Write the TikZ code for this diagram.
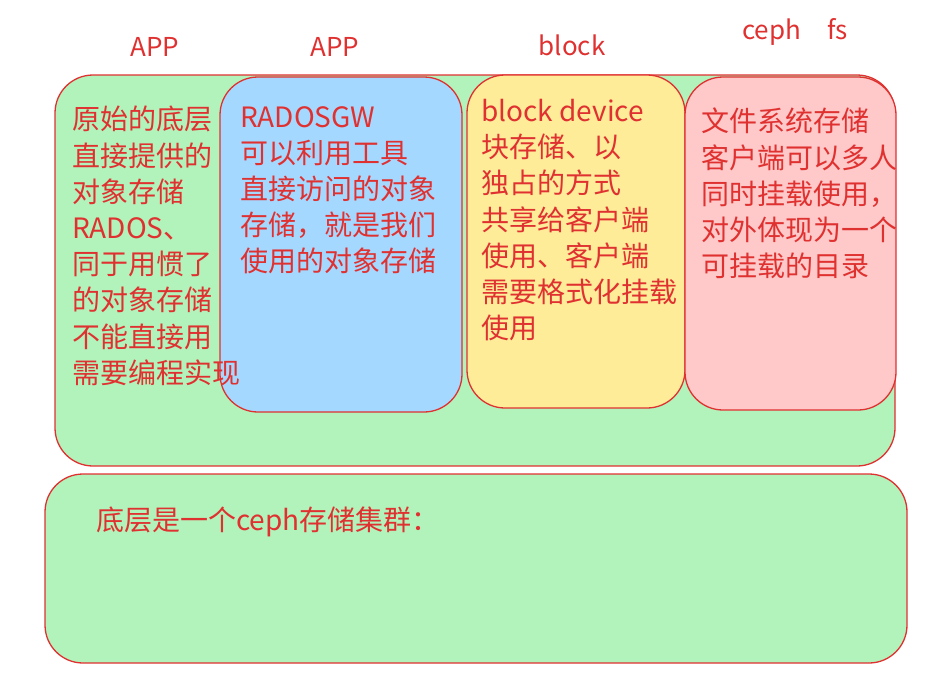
\documentclass[tikz,border=0pt]{standalone}
\usepackage{fontspec}
\setmainfont{Noto Sans CJK SC}
\usetikzlibrary{positioning}
\definecolor{ink}{HTML}{E03131}
\definecolor{leaf}{HTML}{B2F2BB}
\definecolor{sky}{HTML}{A5D8FF}
\definecolor{sand}{HTML}{FFEC99}
\definecolor{rose}{HTML}{FFC9C9}

\begin{document}
\begin{tikzpicture}[x=1pt,y=-1pt,
  box/.style={draw=ink,line width=1.3pt,rounded corners=38pt,inner sep=0pt},
  txt/.style={text=ink,font=\fontsize{28}{36.2}\selectfont,align=left,anchor=north west,inner sep=0pt},
  lbl/.style={text=ink,font=\fontsize{26}{30}\selectfont,inner sep=0pt}]
\useasboundingbox (0,0) rectangle (947,685);
% layers
\node[box,fill=leaf,minimum width=840pt,minimum height=391pt] (rados) at (475,270.5) {};
\node[box,fill=sky,minimum width=242pt,minimum height=335pt] (gw) at (341,244.5) {};
\node[box,fill=sand,minimum width=218pt,minimum height=333pt] (rbd) at (576,241.5) {};
\node[box,fill=rose,minimum width=211pt,minimum height=333pt] (cfs) at (790.5,243.5) {};
\node[box,fill=leaf,minimum width=862pt,minimum height=189pt] (cluster) at (476,568.5) {};
% clients on top
\node[lbl] (app1) at (155,47) {APP};
\node[lbl] (app2) at (335,47) {APP};
\node[lbl] (blk) at (572,45) {block};
\node[lbl] (fs) at (795,32) {ceph\quad fs};
% texts
\node[txt] (t1) at (72,106) {原始的底层\\直接提供的\\对象存储\\RADOS、\\同于用惯了\\的对象存储\\不能直接用\\需要编程实现};
\node[txt] (t2) at (240,106) {RADOSGW\\可以利用工具\\直接访问的对象\\存储，就是我们\\使用的对象存储};
\node[txt] (t3) at (481,99) {block device\\块存储、以\\独占的方式\\共享给客户端\\使用、客户端\\需要格式化挂载\\使用};
\node[txt] (t4) at (701,108) {文件系统存储\\客户端可以多人\\同时挂载使用，\\对外体现为一个\\可挂载的目录};
\node[txt] (t5) at (96,507) {底层是一个ceph存储集群：};
\end{tikzpicture}
\end{document}
